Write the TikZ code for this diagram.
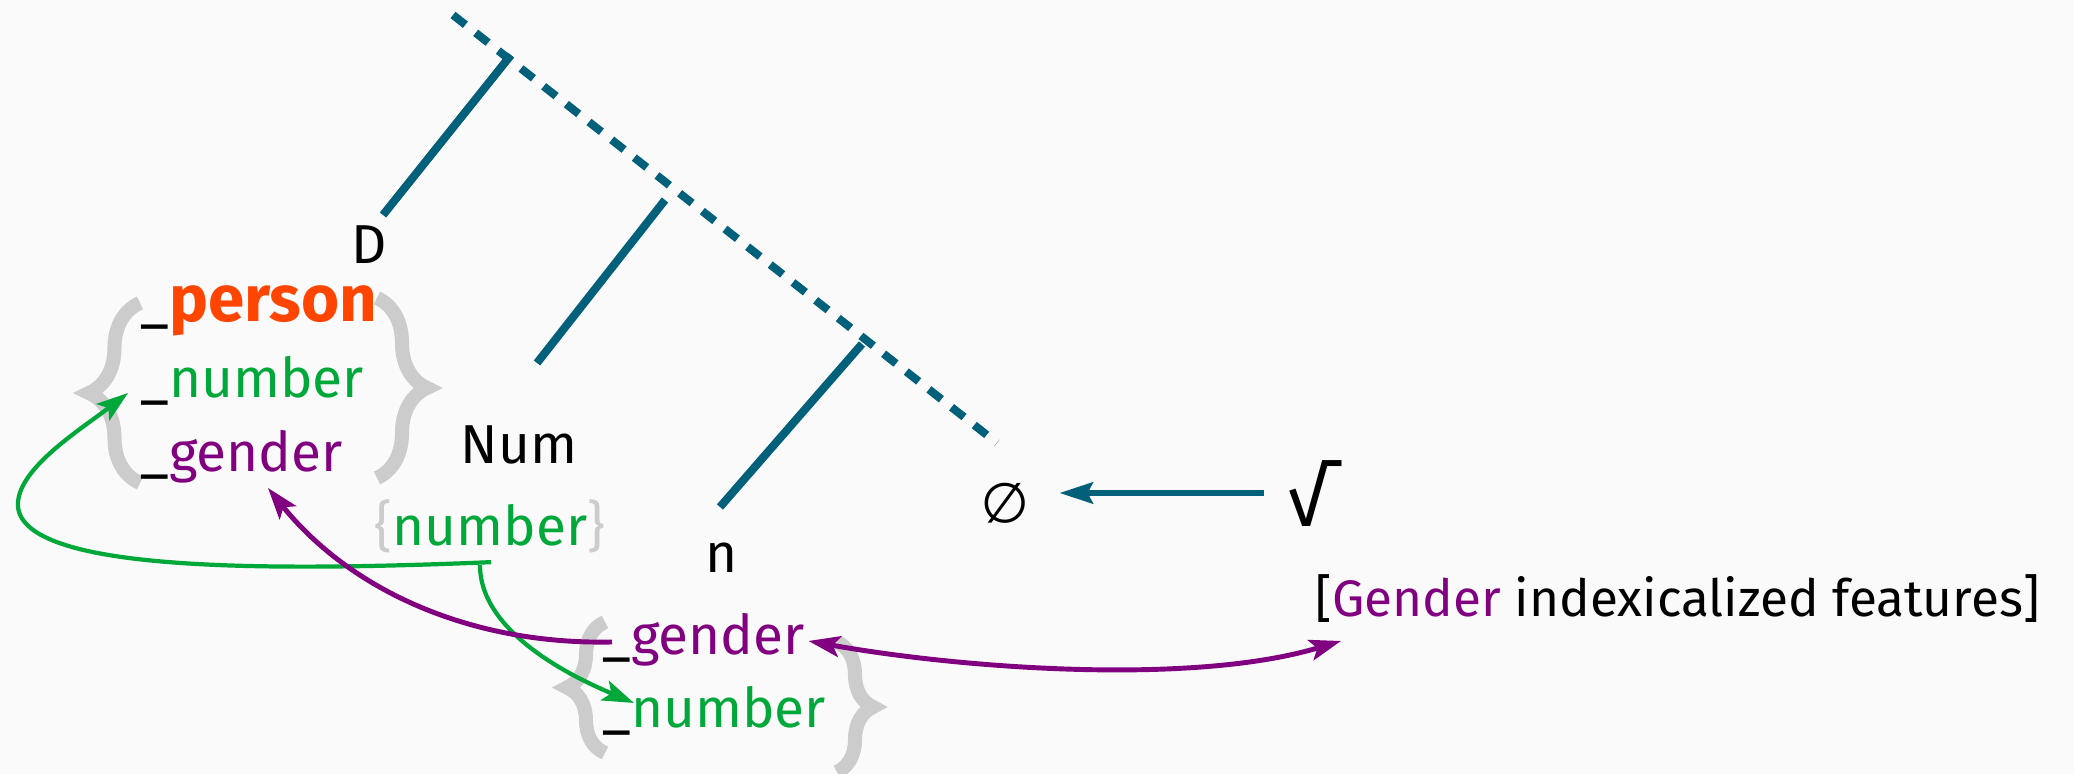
\documentclass[tikz,border=0pt]{standalone}
\usepackage{fontspec}
\setmainfont{Fira Sans}
\usepackage{amssymb}
\usepackage{tikz}
\usetikzlibrary{arrows.meta, decorations.pathreplacing, calc}
\definecolor{treeteal}{RGB}{2,96,122}
\definecolor{featgreen}{RGB}{0,168,58}
\definecolor{featpurple}{RGB}{128,0,128}
\definecolor{personred}{RGB}{255,69,0}
\definecolor{bracegray}{RGB}{204,204,204}
\definecolor{slidebg}{RGB}{250,250,250}

\begin{document}
\begin{tikzpicture}[
  x=0.01cm, y=-0.01cm,
  lbl/.style={inner sep=0pt, font=\fontsize{15.6}{18}\selectfont},
  feat/.style={lbl, anchor=base west},
  branch/.style={treeteal, line width=2.3pt},
  spine/.style={treeteal, line width=2.3pt, dash pattern=on 4.5pt off 3.7pt},
  bundle/.style={bracegray, line width=4pt, decorate,
    decoration={brace, amplitude=#1}},
  link/.style={line width=1.2pt,
    -{Stealth[length=9pt, width=6pt, inset=2pt]}},
  dlink/.style={line width=1.4pt,
    {Stealth[length=9pt, width=6pt, inset=2pt]}-{Stealth[length=9pt, width=6pt, inset=2pt]}}
]
\fill[slidebg] (0,0) rectangle (2074,774);
\useasboundingbox (0,0) rectangle (2074,774);

\coordinate (spineTop) at (453,15);
\coordinate (spineEnd) at (997,443);
\coordinate (dTop) at (511,55);
\coordinate (dBot) at (383,215);
\coordinate (numTop) at (665,200);
\coordinate (numBot) at (537,363);
\coordinate (nTop) at (862,344);
\coordinate (nBot) at (720,507);

\draw[spine] (spineTop) -- (spineEnd);
\draw[branch] (dBot) -- (dTop);
\draw[branch] (numBot) -- (numTop);
\draw[branch] (nBot) -- (nTop);

\draw[bundle=0.51cm] (140,483) -- (140,303);
\draw[bundle=0.5cm] (377,298) -- (377,478);
\draw[bundle=0.38cm] (605,753) -- (605,622);
\draw[bundle=0.36cm] (837,642) -- (837,772);

\node[lbl] (dLab) at (369,245) {D};
\node[lbl] (numLab) at (519,445) {Num};
\node[lbl] (nLab) at (722,558) {n};
\node[lbl] (nullLab) at (1005,503) {∅};
\node[lbl, font=\fontsize{22}{24}\selectfont] (rootLab) at (1308,494) {√};
\node[feat, font=\fontsize{14.6}{18}\selectfont] (idxLab) at (1315,617)
  {[\textcolor{featpurple}{Gender} indexicalized features]};

\node[feat] (dPers) at (140,322)
  {\_\textcolor{personred}{\fontsize{18.6}{20}\selectfont\bfseries person}};
\node[feat] (dNum) at (140,398) {\_\textcolor{featgreen}{number}};
\node[feat] (dGen) at (140,472) {\_\textcolor{featpurple}{gender}};
\node[lbl, anchor=base] (numFeat) at (490,546)
  {\textcolor{bracegray}{\{}\textcolor{featgreen}{number}\textcolor{bracegray}{\}}};
\node[feat] (nGen) at (602,655) {\_\textcolor{featpurple}{gender}};
\node[feat] (nNum) at (602,728) {\_\textcolor{featgreen}{number}};

\coordinate (numSplit) at ($(numFeat.south)+(1,8)$);
\coordinate (numDown) at ($(numFeat.south)+(-10,11)$);
\coordinate (loopL) at (18,507);
\coordinate (dNumIn) at ($(dNum.base west)+(-12,-5)$);
\coordinate (dGenIn) at ($(dGen.base west)+(128,16)$);
\coordinate (nNumIn) at ($(nNum.base west)+(32,-25)$);
\coordinate (nGenOut) at ($(nGen.base west)+(10,-13)$);
\coordinate (nGenIn) at ($(nGen.base east)+(3,-14)$);
\coordinate (idxIn) at ($(idxLab.base west)+(26,24)$);

\draw[treeteal, line width=1.7pt,
  -{Stealth[length=9.5pt, width=6pt, inset=1.5pt]},
  shorten <=0.22cm, shorten >=0.29cm]
  (rootLab.west |- 0,493) -- (nullLab.east |- 0,493);

\draw[link, featgreen] (numSplit) .. controls +(-241,10) and +(7,63) .. (loopL)
  .. controls +(-3,-37) and +(-48,37) .. (dNumIn);
\draw[link, featgreen] (numDown) .. controls +(0,70) and +(-54,-23) .. (nNumIn);
\draw[link, featpurple, line width=1.4pt]
  (nGenOut) .. controls +(-142,3) and +(82,102) .. (dGenIn);
\draw[dlink, featpurple]
  (nGenIn) .. controls +(150,27) and +(-150,45) .. (idxIn);
\end{tikzpicture}
\end{document}
